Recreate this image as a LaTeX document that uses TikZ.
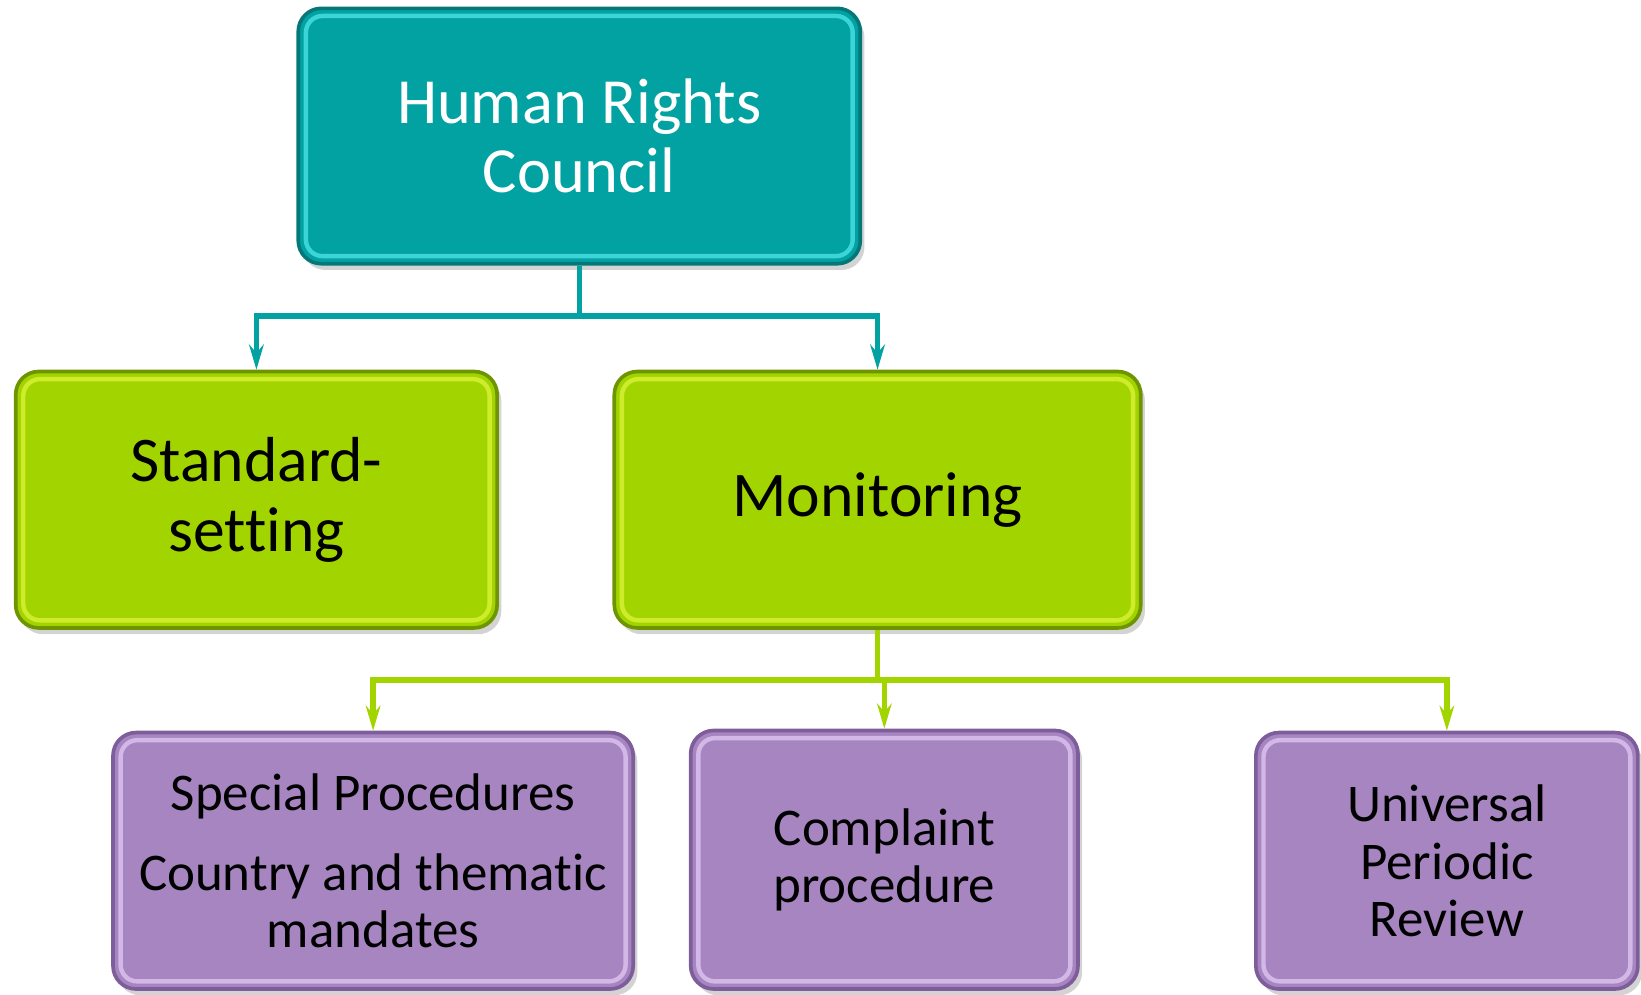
\documentclass[tikz,border=0pt]{standalone}
\usepackage{fontspec}
\setmainfont{Carlito}[Ligatures=NoCommon]
\usepackage{tikz}
\usetikzlibrary{arrows.meta,shadows}

\definecolor{hrcteal}{HTML}{03A2A2}
\definecolor{hrcdark}{HTML}{047878}
\definecolor{hrclight}{HTML}{4FE6EA}
\definecolor{taskgreen}{HTML}{A2D500}
\definecolor{taskdark}{HTML}{6E9400}
\definecolor{tasklight}{HTML}{DDF53A}
\definecolor{mechpurple}{HTML}{A685C1}
\definecolor{mechdark}{HTML}{7E5E9A}
\definecolor{mechlight}{HTML}{E2C8F5}

\begin{document}
\begin{tikzpicture}[line cap=round, line join=round, x=1cm, y=1cm,
    box/.style={rectangle, rounded corners=0.22cm, align=center, inner sep=2pt,
        line width=1pt, drop shadow={opacity=0.35, shadow xshift=0.04cm, shadow yshift=-0.06cm}},
    councilbox/.style={box, fill=hrcteal, draw=hrcdark, text=white,
        font=\fontsize{17.5}{18.7}\selectfont},
    taskbox/.style={box, fill=taskgreen, draw=taskdark, text=black,
        font=\fontsize{17.3}{19}\selectfont},
    mechbox/.style={box, fill=mechpurple, draw=mechdark, text=black,
        font=\fontsize{14.4}{15.6}\selectfont},
    link/.style={line width=1.5pt, line cap=butt, line join=miter},
    tip/.style={-{Stealth[length=0.24cm, width=0.14cm, inset=0.08cm]}}]
    \useasboundingbox (0, 0) rectangle (15.68, 9.50);
    \node[councilbox, minimum width=5.37cm, minimum height=2.44cm] (hrc) at (5.535, 8.20) {Human Rights\\Council};
    \node[taskbox, minimum width=4.60cm, minimum height=2.45cm] (std) at (2.45, 4.725) {Standard-\\setting};
    \node[taskbox, minimum width=5.03cm, minimum height=2.45cm] (mon) at (8.385, 4.725) {Monitoring};
    \node[mechbox, minimum width=4.97cm, minimum height=2.45cm] (sp) at (3.565, 1.275) {Special Procedures\\[0.22cm]Country and thematic\\mandates};
    \node[mechbox, minimum width=3.70cm, minimum height=2.47cm] (cp) at (8.45, 1.285) {Complaint\\procedure};
    \node[mechbox, minimum width=3.65cm, minimum height=2.45cm] (upr) at (13.825, 1.275) {Universal\\Periodic\\Review};
    \foreach \n/\c in {hrc/hrclight, std/tasklight, mon/tasklight, sp/mechlight, cp/mechlight, upr/mechlight}
        \draw[\c, line width=1.2pt, opacity=0.75, rounded corners=0.16cm]
            ([shift={(0.09,-0.09)}]\n.north west) rectangle ([shift={(-0.09,0.09)}]\n.south east);
    \coordinate (split1) at (5.535, 6.48);
    \coordinate (split2) at (8.385, 3.00);
    \draw[link, hrcteal] (hrc.south) -- (split1);
    \draw[link, hrcteal, tip] (split1) -| (std.north);
    \draw[link, hrcteal, tip] (split1) -| (mon.north);
    \draw[link, taskgreen] (mon.south) -- (split2);
    \foreach \n in {sp, cp, upr}
        \draw[link, taskgreen, tip] (split2) -| (\n.north);
\end{tikzpicture}
\end{document}
